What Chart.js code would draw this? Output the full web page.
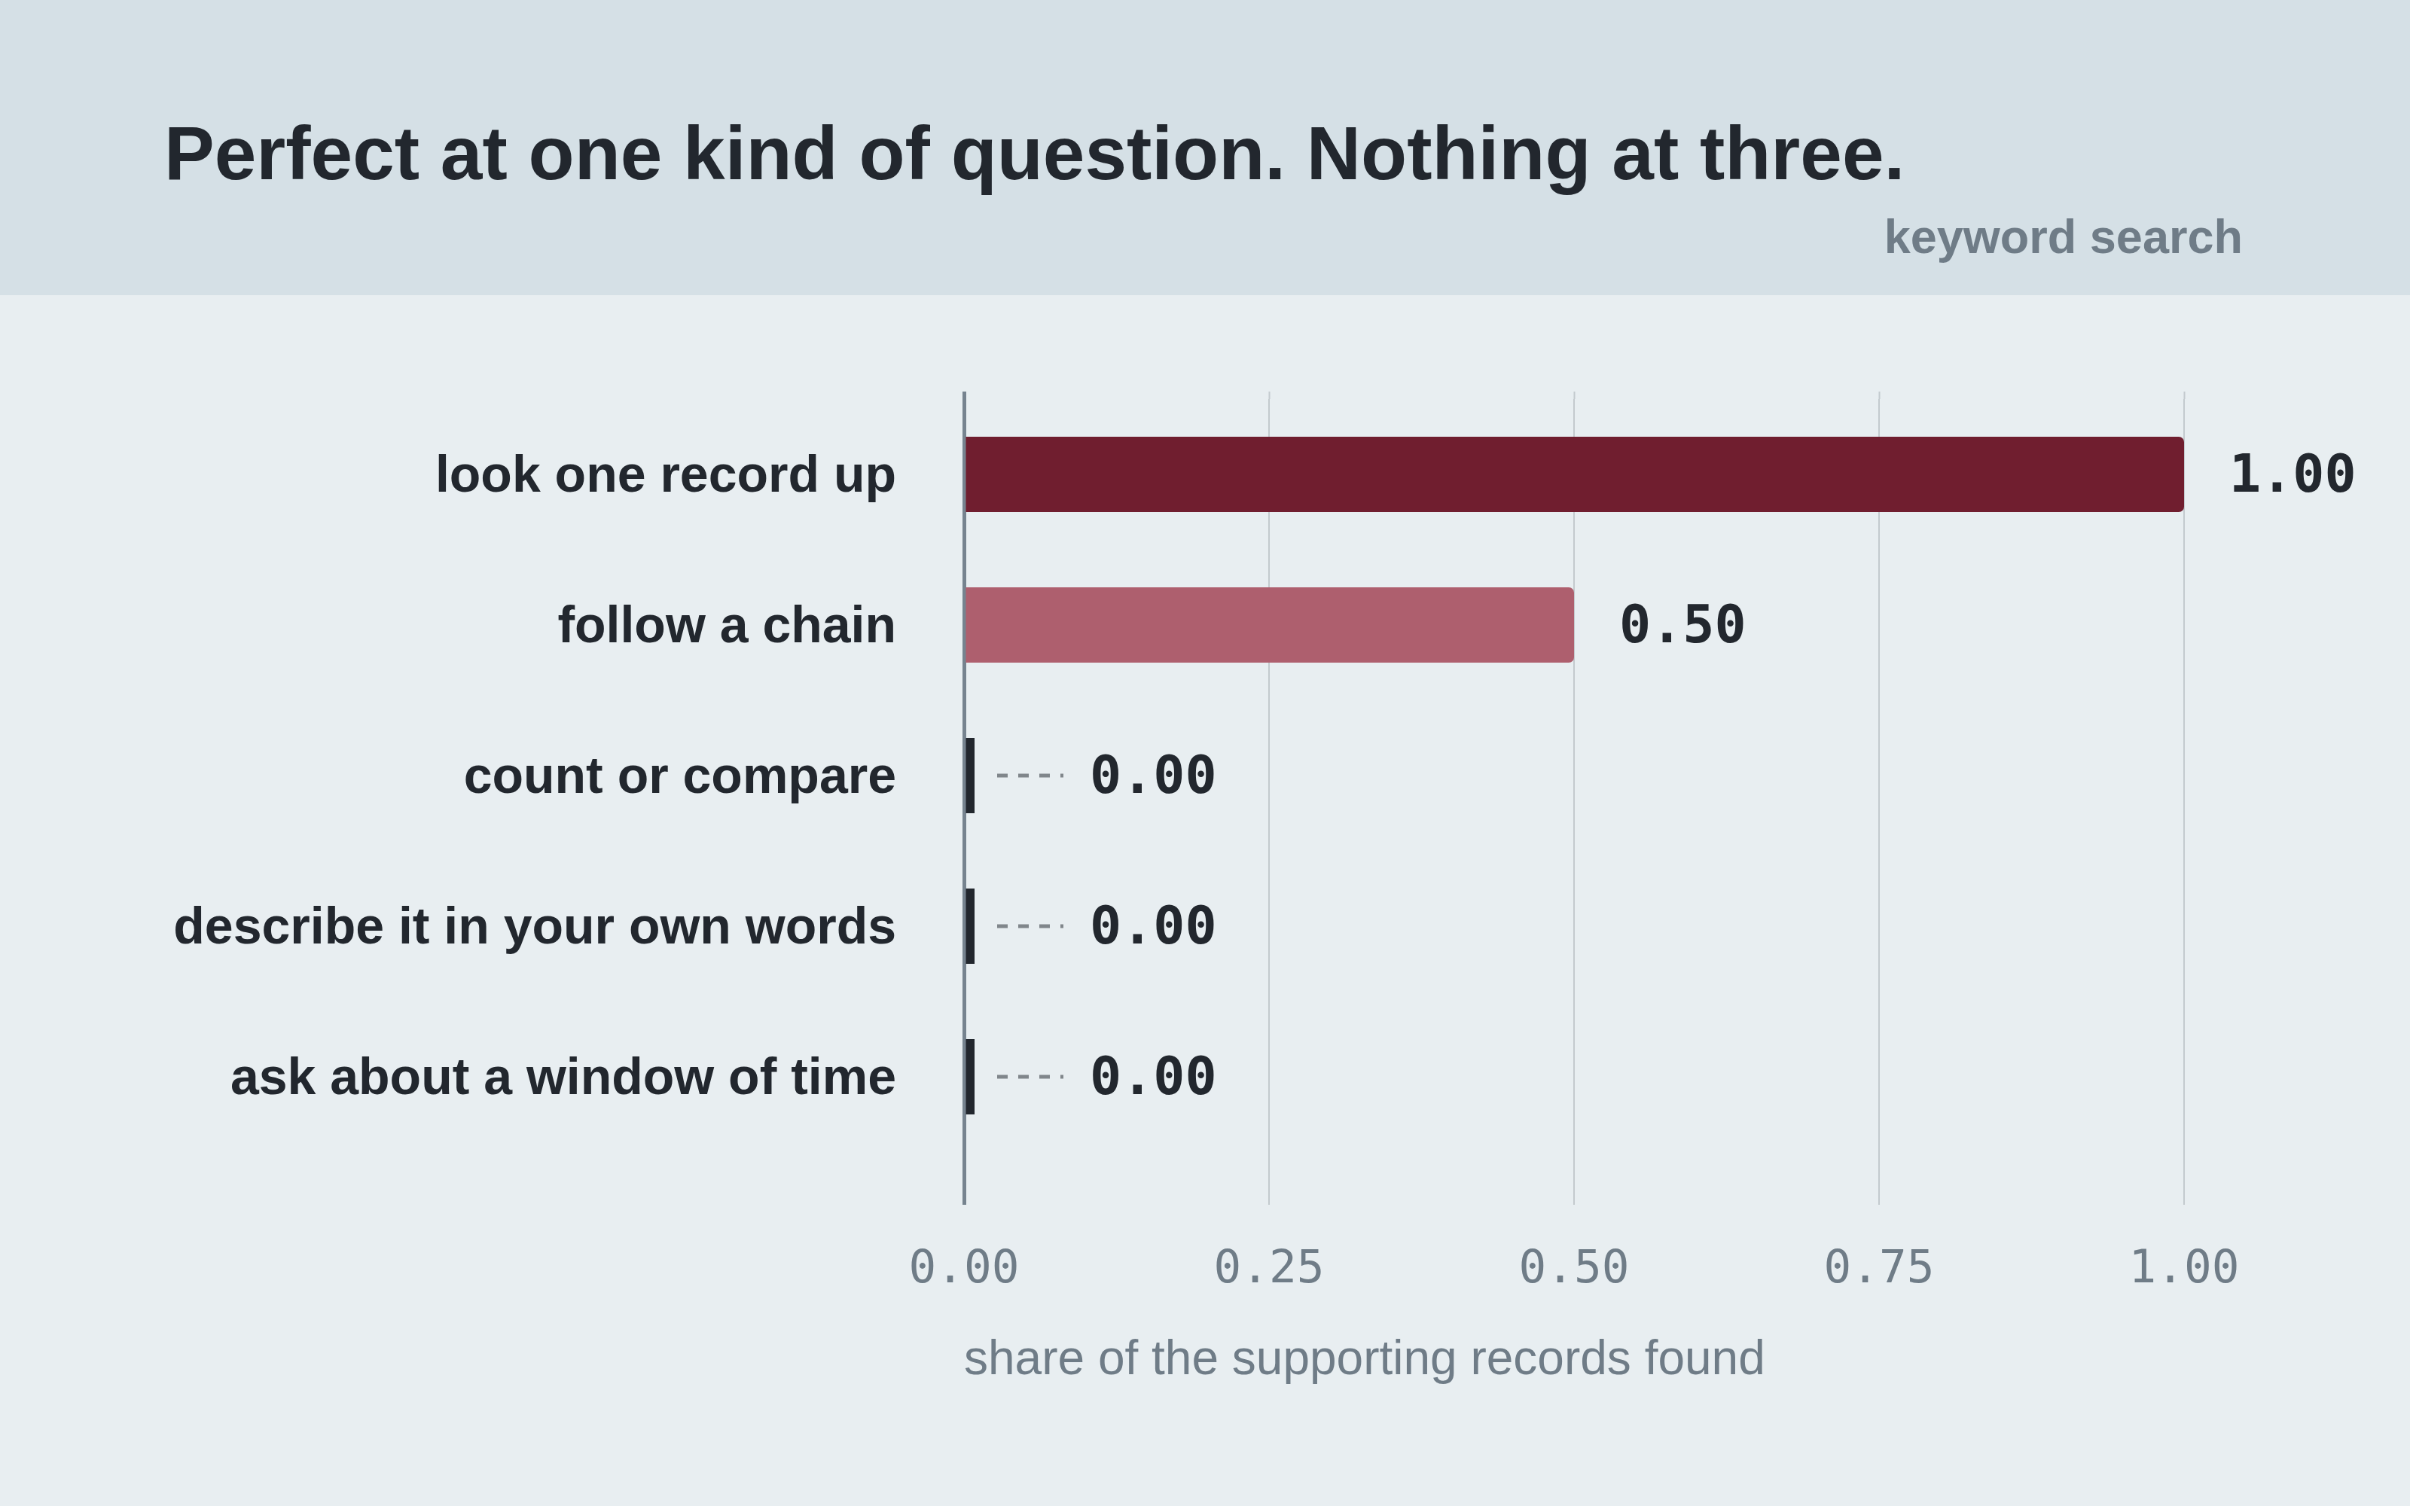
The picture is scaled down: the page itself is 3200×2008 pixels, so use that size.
<!DOCTYPE html>
<html>
<head>
<meta charset="utf-8">
<script src="https://cdn.jsdelivr.net/npm/chart.js@4.4.1/dist/chart.umd.min.js"></script>
<style>
  html, body { margin: 0; padding: 0; background: #ffffff; }
  .page { position: relative; width: 3200px; height: 2000px; background: #e8eef1; overflow: hidden; }
  .header { position: absolute; left: 0; top: 0; width: 3200px; height: 392px; background: #d5e0e6; }
  .title {
    position: absolute; left: 218px; top: 153px; margin: 0;
    font: bold 100px/1 "Liberation Sans", Arial, sans-serif; color: #22272e; white-space: nowrap;
  }
  .subtitle {
    position: absolute; right: 222px; top: 283px;
    font: bold 63px/1 "Liberation Sans", Arial, sans-serif; color: #6f7c87; white-space: nowrap;
  }
  .chart-wrap { position: absolute; left: 0; top: 392px; width: 3200px; height: 1608px; }
</style>
</head>
<body>
<div class="page">
  <div class="header">
    <h1 class="title">Perfect at one kind of question. Nothing at three.</h1>
    <div class="subtitle">keyword search</div>
  </div>
  <div class="chart-wrap"><canvas id="recallChart" width="3200" height="1608"></canvas></div>
</div>

<script>
// question types, top to bottom
const categories = [
  "look one record up",
  "follow a chain",
  "count or compare",
  "describe it in your own words",
  "ask about a window of time"
];

// share of the supporting records found (keyword search)
const recall = [1.00, 0.50, 0.00, 0.00, 0.00];

// x axis ticks
const xTicks = [0, 0.25, 0.5, 0.75, 1];

const barColors = ["#701e2f", "#ae5f6e", "#22272e", "#22272e", "#22272e"];

const INK = "#22272e";
const MUTED = "#6f7c87";
const GRID = "#c3cace";
const AXIS = "#76838f";

/* =========================
   value labels + dashed leaders for the zero rows
========================= */
const valueLabels = {
  id: "valueLabels",
  afterDatasetsDraw(chart) {
    const ctx = chart.ctx;
    const meta = chart.getDatasetMeta(0);
    ctx.save();
    ctx.font = 'bold 70px "DejaVu Sans Mono", monospace';
    ctx.fillStyle = INK;
    ctx.textAlign = "left";
    ctx.textBaseline = "middle";
    meta.data.forEach((bar, i) => {
      const v = recall[i];
      const end = bar.x;
      const y = bar.y;
      if (v === 0) {
        // dashed leader from the stub to the label
        ctx.save();
        ctx.strokeStyle = "#80868b";
        ctx.lineWidth = 5;
        ctx.setLineDash([14, 14]);
        ctx.beginPath();
        ctx.moveTo(end + 30, y);
        ctx.lineTo(end + 118, y);
        ctx.stroke();
        ctx.restore();
        ctx.fillText(v.toFixed(2), end + 153, y + 5);
      } else {
        ctx.fillText(v.toFixed(2), end + 60, y + 5);
      }
    });
    ctx.restore();
  }
};

const gridColor = c => (c.tick && c.tick.value === 0 ? AXIS : GRID);
const gridWidth = c => (c.tick && c.tick.value === 0 ? 5 : 2);

new Chart(document.getElementById("recallChart"), {
  type: "bar",
  data: {
    labels: categories,
    datasets: [{
      data: recall,
      backgroundColor: barColors,
      borderWidth: 0,
      borderSkipped: "start",
      borderRadius: c => (recall[c.dataIndex] === 0 ? 0 : 7),
      minBarLength: 14,
      barPercentage: 0.5,
      categoryPercentage: 1
    }]
  },
  options: {
    indexAxis: "y",
    responsive: false,
    animation: false,
    devicePixelRatio: 1,
    layout: { padding: { left: 0, right: 300, top: 128, bottom: 0 } },
    plugins: {
      legend: { display: false },
      tooltip: { enabled: false }
    },
    scales: {
      y: {
        type: "category",
        offset: true,
        afterFit: s => { s.width = 1280; },
        grid: { display: false, drawTicks: false },
        border: { display: false },
        ticks: {
          padding: 90,
          labelOffset: 4,
          color: INK,
          font: { family: '"Liberation Sans", Arial, sans-serif', size: 68, weight: "bold" }
        }
      },
      x: {
        position: "bottom",
        min: 0,
        max: 1,
        afterFit: s => { s.height = 470; },
        afterBuildTicks: s => { s.ticks = xTicks.map(v => ({ value: v })); },
        grid: {
          color: gridColor,
          lineWidth: gridWidth,
          tickColor: gridColor,
          tickWidth: gridWidth,
          tickLength: 70,
          drawTicks: true
        },
        border: { display: false },
        ticks: {
          padding: 51,
          color: MUTED,
          font: { family: '"DejaVu Sans Mono", monospace', size: 61 },
          callback: v => Number(v).toFixed(2)
        },
        title: {
          display: true,
          text: "share of the supporting records found",
          align: "start",
          color: MUTED,
          padding: { top: 0, bottom: 154 },
          font: { family: '"Liberation Sans", Arial, sans-serif', size: 64 }
        }
      },
      xTop: {
        type: "linear",
        axis: "x",
        position: "top",
        min: 0,
        max: 1,
        afterFit: s => { s.height = 10; },
        afterBuildTicks: s => { s.ticks = xTicks.map(v => ({ value: v })); },
        grid: {
          drawOnChartArea: false,
          drawTicks: true,
          tickLength: 10,
          tickColor: gridColor,
          tickWidth: gridWidth
        },
        border: { display: false },
        ticks: { display: false }
      }
    }
  },
  plugins: [valueLabels]
});
</script>
</body>
</html>
